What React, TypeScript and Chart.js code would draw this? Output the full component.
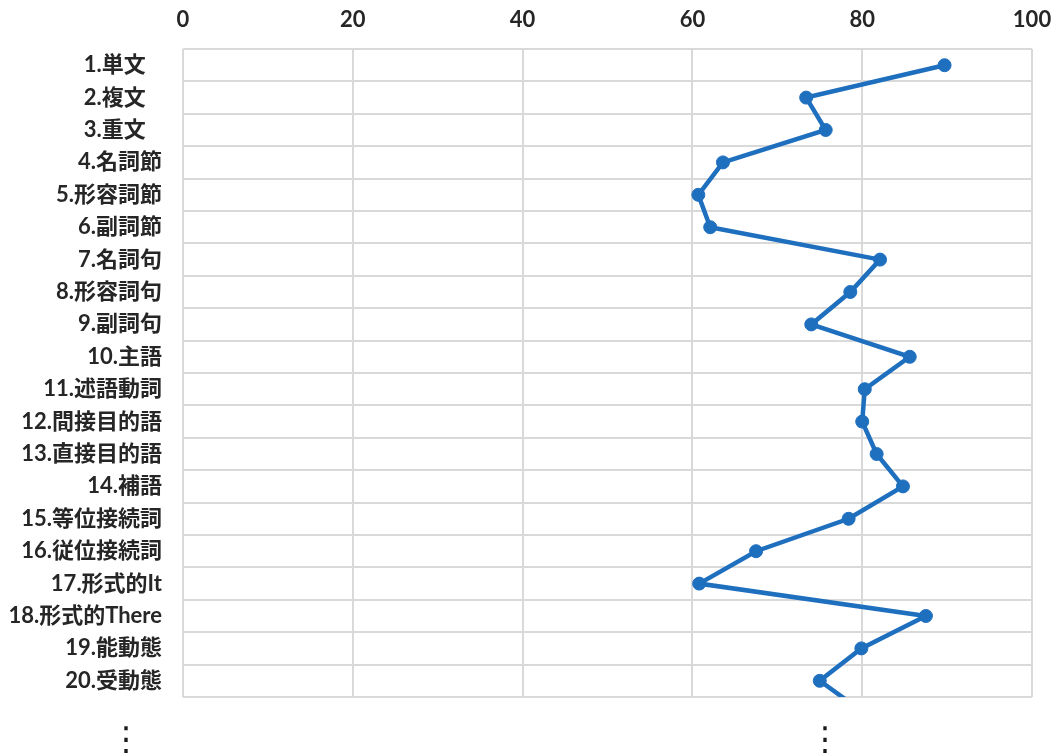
import { useEffect, useRef } from "react";
import { Chart, registerables } from "chart.js";

Chart.register(...registerables);

// Grammar items, top to bottom (the 21st continues below the visible window)
const categories: string[] = [
  "1.単文\u2002 ",
  "2.複文\u2002 ",
  "3.重文\u2002 ",
  "4.名詞節",
  "5.形容詞節",
  "6.副詞節",
  "7.名詞句",
  "8.形容詞句",
  "9.副詞句",
  "10.主語",
  "11.述語動詞",
  "12.間接目的語",
  "13.直接目的語",
  "14.補語",
  "15.等位接続詞",
  "16.従位接続詞",
  "17.形式的It",
  "18.形式的There",
  "19.能動態",
  "20.受動態",
  "21.",
];

// Score (%) per item
const scores: number[] = [
  89.7, 73.4, 75.7, 63.6, 60.7, 62.1, 82.1, 78.6, 74.0, 85.6,
  80.3, 80.0, 81.7, 84.8, 78.4, 67.5, 60.8, 87.5, 79.9, 75.0,
  80.3,
];

const xTicks: number[] = [0, 20, 40, 60, 80, 100];

// Number of rows shown in the window
const VISIBLE_ROWS = 20;

const BLUE = "#1f6fbf";
const GRID = "#d9d9d9";
const TEXT = "#262626";
const FONT = { family: "Lato, 'Noto Sans CJK JP', sans-serif", size: 22, weight: "bold" as const };

export default function App() {
  const canvasRef = useRef<HTMLCanvasElement>(null);

  useEffect(() => {
    const canvas = canvasRef.current;
    if (!canvas) return;
    const chart = new Chart(canvas, {
      type: "line",
      data: {
        labels: categories,
        datasets: [
          {
            data: scores,
            borderColor: BLUE,
            backgroundColor: BLUE,
            borderWidth: 4.5,
            pointRadius: 6.5,
            pointHoverRadius: 6.5,
            pointBackgroundColor: BLUE,
            pointBorderColor: BLUE,
            pointBorderWidth: 1,
            tension: 0,
            clip: 0,
          },
        ],
      },
      options: {
        animation: false,
        responsive: false,
        indexAxis: "y",
        layout: { padding: { left: 0, right: 24, top: 0, bottom: 58 } },
        plugins: {
          legend: { display: false },
          tooltip: { enabled: false },
        },
        scales: {
          x: {
            type: "linear",
            position: "top",
            min: xTicks[0],
            max: xTicks[xTicks.length - 1],
            afterBuildTicks: (scale: any) => {
              scale.ticks = xTicks.map((v) => ({ value: v }));
            },
            ticks: { color: TEXT, font: FONT, padding: 16 },
            grid: { color: GRID, lineWidth: 2, drawTicks: false },
            border: { display: false },
            afterFit: (scale: any) => {
              scale.height = 49;
              scale.paddingLeft = 0;
              scale.paddingRight = 0;
            },
          },
          y: {
            type: "category",
            offset: true,
            // window the first rows; the line keeps running into the next one
            afterDataLimits: (scale: any) => {
              scale.min = 0;
              scale.max = VISIBLE_ROWS - 1;
            },
            ticks: { color: TEXT, font: FONT, padding: 21, autoSkip: false },
            grid: { color: GRID, lineWidth: 2, drawTicks: false, offset: true },
            border: { display: false },
            afterFit: (scale: any) => {
              scale.width = 183;
              scale.paddingTop = 0;
              scale.paddingBottom = 0;
            },
          },
        },
      },
    });
    return () => chart.destroy();
  }, []);

  const dots: React.CSSProperties = {
    position: "absolute",
    top: 722,
    width: 40,
    textAlign: "center",
    fontFamily: "'DejaVu Sans', sans-serif",
    fontWeight: "normal",
    fontSize: 33,
    lineHeight: "33px",
    color: "#1a1a1a",
  };

  return (
    <div style={{ position: "absolute", left: 0, top: 0, width: 1056, height: 755, background: "#fff" }}>
      <canvas ref={canvasRef} width={1056} height={755} style={{ position: "absolute", left: 0, top: 0 }} />
      <div style={{ ...dots, left: 106 }}>⋮</div>
      <div style={{ ...dots, left: 805 }}>⋮</div>
    </div>
  );
}
